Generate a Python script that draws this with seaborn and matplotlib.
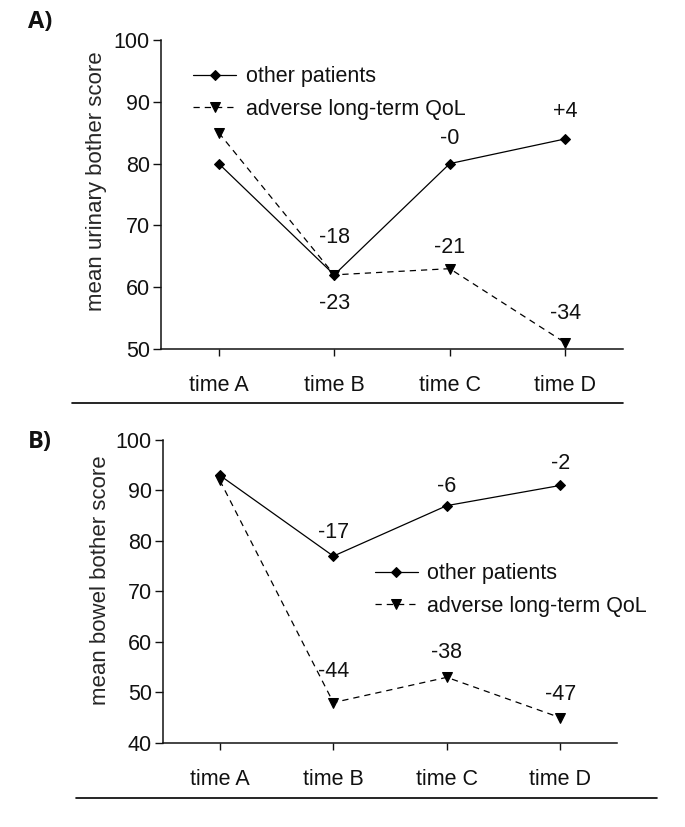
import pandas as pd
import seaborn as sns
import matplotlib.pyplot as plt
from matplotlib.lines import Line2D

# data
times = ['time A', 'time B', 'time C', 'time D']

urinary_other = [80, 62, 80, 84]
urinary_adverse = [85, 62, 63, 51]
urinary_labels = ['-18', '-23', '-0', '-21', '+4', '-34']
urinary_label_x = [1, 1, 2, 2, 3, 3]
urinary_label_y = [68, 57.4, 84.1, 66.5, 88.4, 55.8]

bowel_other = [93, 77, 87, 91]
bowel_adverse = [92, 48, 53, 45]
bowel_labels = ['-17', '-44', '-6', '-38', '-2', '-47']
bowel_label_x = [1, 1, 2, 2, 3, 3]
bowel_label_y = [81.6, 54.1, 90.7, 58.0, 95.4, 49.5]

series_names = ['other patients', 'adverse long-term QoL']

sns.set_style('ticks')
plt.rcParams['font.family'] = ['Liberation Sans', 'DejaVu Sans']
plt.rcParams['text.color'] = '#111111'
plt.rcParams['axes.edgecolor'] = '#111111'
plt.rcParams['xtick.color'] = '#111111'
plt.rcParams['ytick.color'] = '#111111'

FS = 15.5

fig = plt.figure(figsize=(6.85, 8.27), dpi=100)
axA = fig.add_axes([0.235, 0.578, 0.6745, 0.3736])
axB = fig.add_axes([0.238, 0.1016, 0.663, 0.3664])


def draw_panel(ax, other, adverse, labels, lx, ly, ylim, yticks, ylabel,
               leg_anchor, ylab_coords):
    df = pd.DataFrame({'time': times * 2,
                       'score': other + adverse,
                       'group': [series_names[0]] * 4 + [series_names[1]] * 4})
    d1 = df[df['group'] == series_names[0]]
    d2 = df[df['group'] == series_names[1]]
    sns.lineplot(data=d1, x='time', y='score', ax=ax, color='black',
                 marker='D', markersize=5, linewidth=0.9,
                 markeredgecolor='black', label=series_names[0], sort=False)
    sns.lineplot(data=d2, x='time', y='score', ax=ax, color='black',
                 marker='v', markersize=7.5, linewidth=0.9,
                 markeredgecolor='black', label=series_names[1], sort=False,
                 dashes=False)
    ax.lines[-1].set_dashes((5, 4))

    for t, x, y in zip(labels, lx, ly):
        ax.text(x, y, t, ha='center', va='center', fontsize=FS)

    ax.set_xlim(-0.5, 3.5)
    ax.set_ylim(*ylim)
    ax.set_yticks(yticks)
    ax.set_xlabel('')
    ax.set_ylabel(ylabel, fontsize=FS + 0.5)
    ax.yaxis.set_label_coords(*ylab_coords)
    sns.despine(ax=ax)
    for s in ['left', 'bottom']:
        ax.spines[s].set_linewidth(1.1)
    ax.tick_params(axis='x', length=5, width=1, pad=13.5, labelsize=FS)
    ax.tick_params(axis='y', length=5.5, width=1, pad=2.5, labelsize=FS)

    handles, names = ax.get_legend_handles_labels()
    ax.legend(handles, names, frameon=False, fontsize=FS, loc='upper left',
              bbox_to_anchor=leg_anchor, bbox_transform=fig.transFigure,
              borderpad=0, borderaxespad=0, handlelength=2.0,
              handletextpad=0.45, labelspacing=0.55)


draw_panel(axA, urinary_other, urinary_adverse, urinary_labels,
           urinary_label_x, urinary_label_y, (50, 100),
           [50, 60, 70, 80, 90, 100], 'mean urinary bother score',
           (0.282, 0.920), (-0.117, 0.544))
draw_panel(axB, bowel_other, bowel_adverse, bowel_labels,
           bowel_label_x, bowel_label_y, (40, 100),
           [40, 50, 60, 70, 80, 90, 100], 'mean bowel bother score',
           (0.547, 0.319), (-0.115, 0.538))

# panel letters and rules under each panel
fig.text(0.041, 0.973, 'A)', fontsize=17, fontweight='bold',
         family=['Open Sans', 'DejaVu Sans'], va='center', ha='left')
fig.text(0.041, 0.4655, 'B)', fontsize=17, fontweight='bold',
         family=['Open Sans', 'DejaVu Sans'], va='center', ha='left')
fig.add_artist(Line2D([72 / 685, 623 / 685], [1 - 403 / 827, 1 - 403 / 827],
                      color='black', linewidth=1.2))
fig.add_artist(Line2D([76 / 685, 657 / 685], [1 - 798 / 827, 1 - 798 / 827],
                      color='black', linewidth=1.2))

fig.savefig('out.png', dpi=100)
